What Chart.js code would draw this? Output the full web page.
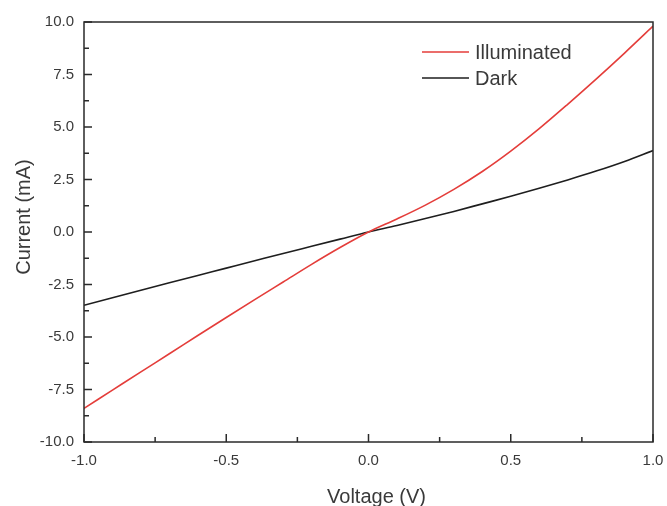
<!DOCTYPE html>
<html>
<head>
<meta charset="utf-8">
<script src="https://cdn.jsdelivr.net/npm/chart.js@4/dist/chart.umd.min.js"></script>
<style>
  html, body { margin: 0; padding: 0; background: #fff; }
  #wrap { width: 667px; height: 506px; }
</style>
</head>
<body>
<div id="wrap"><canvas id="ivChart" width="667" height="506"></canvas></div>
<script>
const voltage = [-1.0, -0.9, -0.8, -0.7, -0.6, -0.5, -0.4, -0.3, -0.2, -0.1, 0.0, 0.1, 0.2, 0.3, 0.4, 0.5, 0.6, 0.7, 0.8, 0.9, 1.0];
const illuminated = [-8.40, -7.53, -6.66, -5.80, -4.93, -4.07, -3.22, -2.38, -1.54, -0.74, 0.0, 0.62, 1.28, 2.03, 2.88, 3.85, 4.92, 6.08, 7.28, 8.52, 9.80];
const dark = [-3.49, -3.13, -2.77, -2.42, -2.07, -1.72, -1.37, -1.02, -0.68, -0.34, 0.0, 0.31, 0.64, 0.98, 1.34, 1.70, 2.08, 2.48, 2.90, 3.36, 3.88];
const xTicks = [-1.0, -0.5, 0.0, 0.5, 1.0];
const yTicks = [-10.0, -7.5, -5.0, -2.5, 0.0, 2.5, 5.0, 7.5, 10.0];
const xTitle = "Voltage (V)";
const yTitle = "Current (mA)";

const textColor = "#3a3a3a";
const axisColor = "#2a2a2a";
const fontFamily = "'Liberation Sans', Arial, sans-serif";

function toPoints(ys) {
  return voltage.map((v, i) => ({ x: v, y: ys[i] }));
}

// frame + inward ticks (major and minor), placed with the scales
const frameTicks = {
  id: "frameTicks",
  afterDraw(chart) {
    const ctx = chart.ctx;
    const a = chart.chartArea;
    const xs = chart.scales.x, ys = chart.scales.y;
    ctx.save();
    ctx.strokeStyle = axisColor;
    ctx.lineWidth = 1.5;
    ctx.strokeRect(a.left, a.top, a.right - a.left, a.bottom - a.top);
    ctx.beginPath();
    xTicks.forEach((v, i) => {
      const px = xs.getPixelForValue(v);
      ctx.moveTo(px, a.bottom); ctx.lineTo(px, a.bottom - 8);
      if (i < xTicks.length - 1) {
        const mx = xs.getPixelForValue((v + xTicks[i + 1]) / 2);
        ctx.moveTo(mx, a.bottom); ctx.lineTo(mx, a.bottom - 5);
      }
    });
    yTicks.forEach((v, i) => {
      const py = ys.getPixelForValue(v);
      ctx.moveTo(a.left, py); ctx.lineTo(a.left + 8, py);
      if (i < yTicks.length - 1) {
        const my = ys.getPixelForValue((v + yTicks[i + 1]) / 2);
        ctx.moveTo(a.left, my); ctx.lineTo(a.left + 5, my);
      }
    });
    ctx.stroke();
    ctx.restore();
  }
};

// axis titles, a bit off-centre like the original figure
const axisTitles = {
  id: "axisTitles",
  afterDraw(chart) {
    const ctx = chart.ctx;
    const a = chart.chartArea;
    ctx.save();
    ctx.fillStyle = textColor;
    ctx.font = "20px " + fontFamily;
    ctx.textAlign = "center";
    ctx.textBaseline = "alphabetic";
    ctx.fillText(xTitle, (a.left + a.right) / 2 + 8, 503);
    ctx.translate(30, (a.top + a.bottom) / 2 - 15);
    ctx.rotate(-Math.PI / 2);
    ctx.fillText(yTitle, 0, 0);
    ctx.restore();
  }
};

// legend inside the plot, top right
const insideLegend = {
  id: "insideLegend",
  afterDraw(chart) {
    const ctx = chart.ctx;
    ctx.save();
    ctx.font = "20px " + fontFamily;
    ctx.textBaseline = "middle";
    chart.data.datasets.forEach((ds, i) => {
      const y = 52 + i * 26;
      ctx.strokeStyle = ds.borderColor;
      ctx.lineWidth = 1.6;
      ctx.beginPath();
      ctx.moveTo(422, y); ctx.lineTo(469, y);
      ctx.stroke();
      ctx.fillStyle = textColor;
      ctx.fillText(ds.label, 475, y + 1);
    });
    ctx.restore();
  }
};

new Chart(document.getElementById("ivChart"), {
  type: "line",
  data: {
    datasets: [
      {
        label: "Illuminated",
        data: toPoints(illuminated),
        borderColor: "#e43d3a",
        borderWidth: 1.6,
        pointRadius: 0,
        cubicInterpolationMode: "monotone",
        fill: false
      },
      {
        label: "Dark",
        data: toPoints(dark),
        borderColor: "#1e1e1e",
        borderWidth: 1.6,
        pointRadius: 0,
        cubicInterpolationMode: "monotone",
        fill: false
      }
    ]
  },
  options: {
    responsive: false,
    animation: false,
    layout: { padding: { top: 22, right: 14, left: 0, bottom: 0 } },
    plugins: {
      legend: { display: false },
      tooltip: { enabled: false }
    },
    scales: {
      x: {
        type: "linear",
        min: -1,
        max: 1,
        grid: { display: false, drawTicks: false },
        border: { display: false },
        afterBuildTicks: s => { s.ticks = xTicks.map(v => ({ value: v })); },
        afterFit: s => { s.height = 64; s.paddingLeft = 0; s.paddingRight = 0; },
        ticks: {
          color: textColor,
          padding: 10,
          maxRotation: 0,
          font: { family: fontFamily, size: 15 },
          callback: v => Number(v).toFixed(1)
        }
      },
      y: {
        min: -10,
        max: 10,
        grid: { display: false, drawTicks: false },
        border: { display: false },
        afterBuildTicks: s => { s.ticks = yTicks.map(v => ({ value: v })); },
        afterFit: s => { s.width = 84; s.paddingTop = 0; s.paddingBottom = 0; },
        ticks: {
          color: textColor,
          padding: 10,
          font: { family: fontFamily, size: 15 },
          callback: v => Number(v).toFixed(1)
        }
      }
    }
  },
  plugins: [frameTicks, axisTitles, insideLegend]
});
</script>
</body>
</html>
